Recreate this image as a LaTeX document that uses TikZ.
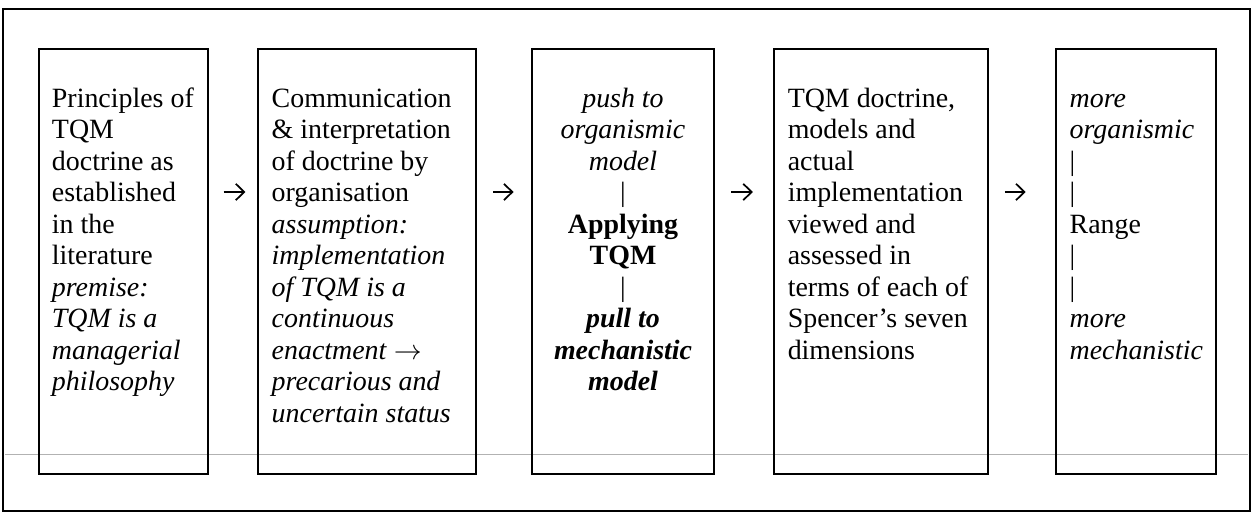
\documentclass[tikz,border=0pt]{standalone}
\usepackage{fontspec}
\setmainfont{Liberation Serif}
\usetikzlibrary{arrows.meta,positioning}
\tikzset{
  box/.style={draw, line width=0.8pt, minimum height=182.8pt, inner sep=0pt},
  txt/.style={inner sep=0pt, outer sep=0pt, align=left,
    font=\fontsize{12}{13.55}\selectfont},
  arr/.style={-{Straight Barb[length=3.6pt,width=7pt]}, line width=0.75pt},
}

\begin{document}
\begin{tikzpicture}
[x=0.43pt,y=0.43pt,node distance=21pt]
  \useasboundingbox (0,0) rectangle (1254,512);
  \draw[line width=0.7pt] (3,1) rectangle (1250,503);
  \draw[black!30, line width=0.3pt] (5,58) -- (1248,58);
  \coordinate (row) at (0,320);
%
  \node[box, minimum width=72.7pt, anchor=north west] (1) at (38,464) {};
  \node[box, minimum width=93.7pt] (2) [right =20.7pt of 1] {};
  \node[box, minimum width=78.3pt] (3) [right =23.3pt of 2] {};
  \node[box, minimum width=92pt] (4) [right =25pt of 3] {};
  \node[box, minimum width=68.8pt] (5) [right =28.4pt of 4] {};
%
  \node[txt] (1a) [below right =16pt and 6pt of 1.north west]
    {\strut Principles of\\TQM\\doctrine as\\established\\in the\\literature\\
     \textit{premise:}\\\textit{TQM is a}\\\textit{managerial}\\\textit{philosophy}};
  \node[txt] (2a) [below right =16pt and 6.3pt of 2.north west]
    {\strut Communication\\\& interpretation\\of doctrine by\\organisation\\
     \textit{assumption:}\\\textit{implementation}\\\textit{of TQM is a}\\
     \textit{continuous}\\\textit{enactment} $\rightarrow$\\\textit{precarious and}\\
     \textit{uncertain status}};
  \node[txt, align=center] (3a) [below =16pt of 3.north]
    {\strut\textit{push to}\\\textit{organismic}\\\textit{model}\\|\\
     \textbf{Applying}\\\textbf{TQM}\\|\\
     \textbf{\textit{pull to}}\\\textbf{\textit{mechanistic}}\\\textbf{\textit{model}}};
  \node[txt] (4a) [below right =16pt and 6.3pt of 4.north west]
    {\strut TQM doctrine,\\models and\\actual\\implementation\\viewed and\\
     assessed in\\terms of each of\\Spencer’s seven\\dimensions};
  \node[txt] (5a) [below right =16pt and 6.3pt of 5.north west]
    {\strut\textit{more}\\\textit{organismic}\\|\\|\\Range\\|\\|\\
     \textit{more}\\\textit{mechanistic}};
%
  \draw[arr, shorten <=6.3pt, shorten >=5pt] (1.east |- row) -- (2.west |- row);
  \draw[arr, shorten <=7pt, shorten >=7.5pt] (2.east |- row) -- (3.west |- row);
  \draw[arr, shorten <=7pt, shorten >=8.7pt] (3.east |- row) -- (4.west |- row);
  \draw[arr, shorten <=6.8pt, shorten >=12.6pt] (4.east |- row) -- (5.west |- row);
\end{tikzpicture}
\end{document}
